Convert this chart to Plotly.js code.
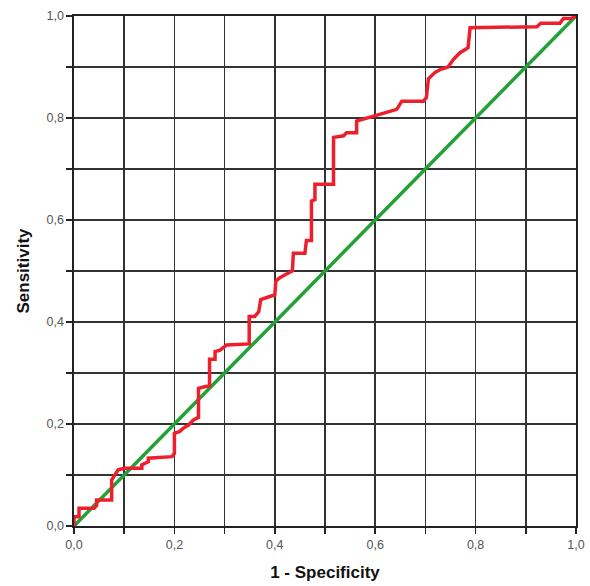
<!DOCTYPE html>
<html>
<head>
<meta charset="utf-8">
<script src="https://cdn.plot.ly/plotly-3.0.1.min.js"></script>
<style>html,body{margin:0;padding:0;background:#fff;}#chart{width:590px;height:586px;}</style>
</head>
<body>
<div id="chart"></div>
<script>
const rocX = [0,0,0.01,0.01,0.04,0.045,0.045,0.075,0.075,0.088,0.1,0.135,0.135,0.148,0.148,0.195,0.2,0.2,0.21,0.218,0.228,0.238,0.248,0.248,0.26,0.27,0.27,0.281,0.281,0.291,0.304,0.349,0.349,0.36,0.368,0.372,0.39,0.4,0.402,0.41,0.427,0.435,0.437,0.46,0.463,0.473,0.473,0.48,0.48,0.517,0.517,0.537,0.543,0.563,0.563,0.6,0.643,0.653,0.696,0.702,0.706,0.72,0.732,0.745,0.756,0.769,0.785,0.789,0.922,0.93,0.968,0.975,0.99,1];
const rocY = [0,0.018,0.018,0.035,0.035,0.04,0.051,0.051,0.09,0.11,0.113,0.113,0.12,0.126,0.133,0.136,0.142,0.182,0.185,0.192,0.198,0.208,0.213,0.27,0.273,0.275,0.327,0.327,0.342,0.345,0.355,0.357,0.411,0.411,0.42,0.444,0.45,0.453,0.48,0.487,0.496,0.5,0.535,0.535,0.56,0.56,0.637,0.64,0.67,0.67,0.762,0.765,0.771,0.771,0.794,0.804,0.817,0.833,0.833,0.84,0.877,0.89,0.896,0.9,0.915,0.928,0.938,0.977,0.979,0.986,0.986,0.995,0.995,1];
const refX = [0,1];
const refY = [0,1];
const tickVals = [0,0.1,0.2,0.3,0.4,0.5,0.6,0.7,0.8,0.9,1.0];
const tickLabels = ['0,0','','0,2','','0,4','','0,6','','0,8','','1,0'];

const axisCommon = {
  range:[0,1], tickmode:'array', tickvals:tickVals, ticktext:tickLabels,
  showgrid:true, gridcolor:'#333', gridwidth:1.6,
  showline:true, linecolor:'#222', linewidth:1.6, mirror:true,
  ticks:'outside', ticklen:6, tickwidth:1.5, tickcolor:'#222',
  zeroline:false, fixedrange:true,
  tickfont:{family:'Liberation Sans, Arial, sans-serif', size:12.5, color:'#555'}
};

Plotly.newPlot('chart', [
  {x:refX, y:refY, mode:'lines', line:{color:'#22a236', width:3.5}, cliponaxis:false, hoverinfo:'skip'},
  {x:rocX, y:rocY, mode:'lines', line:{color:'#ee1f2d', width:3.5}, cliponaxis:false, hoverinfo:'skip'}
], {
  width:590, height:586,
  margin:{l:74, r:14, t:16, b:60},
  paper_bgcolor:'#fff', plot_bgcolor:'#fff',
  showlegend:false,
  xaxis:Object.assign({}, axisCommon, {
    title:{text:'<b>1 - Specificity</b>', font:{family:'Liberation Sans, Arial, sans-serif', size:17, color:'#111'}, standoff:15}
  }),
  yaxis:Object.assign({}, axisCommon, {
    title:{text:'<b>Sensitivity</b>', font:{family:'Liberation Sans, Arial, sans-serif', size:17, color:'#111'}, standoff:12}
  })
}, {staticPlot:true});
</script>
</body>
</html>
